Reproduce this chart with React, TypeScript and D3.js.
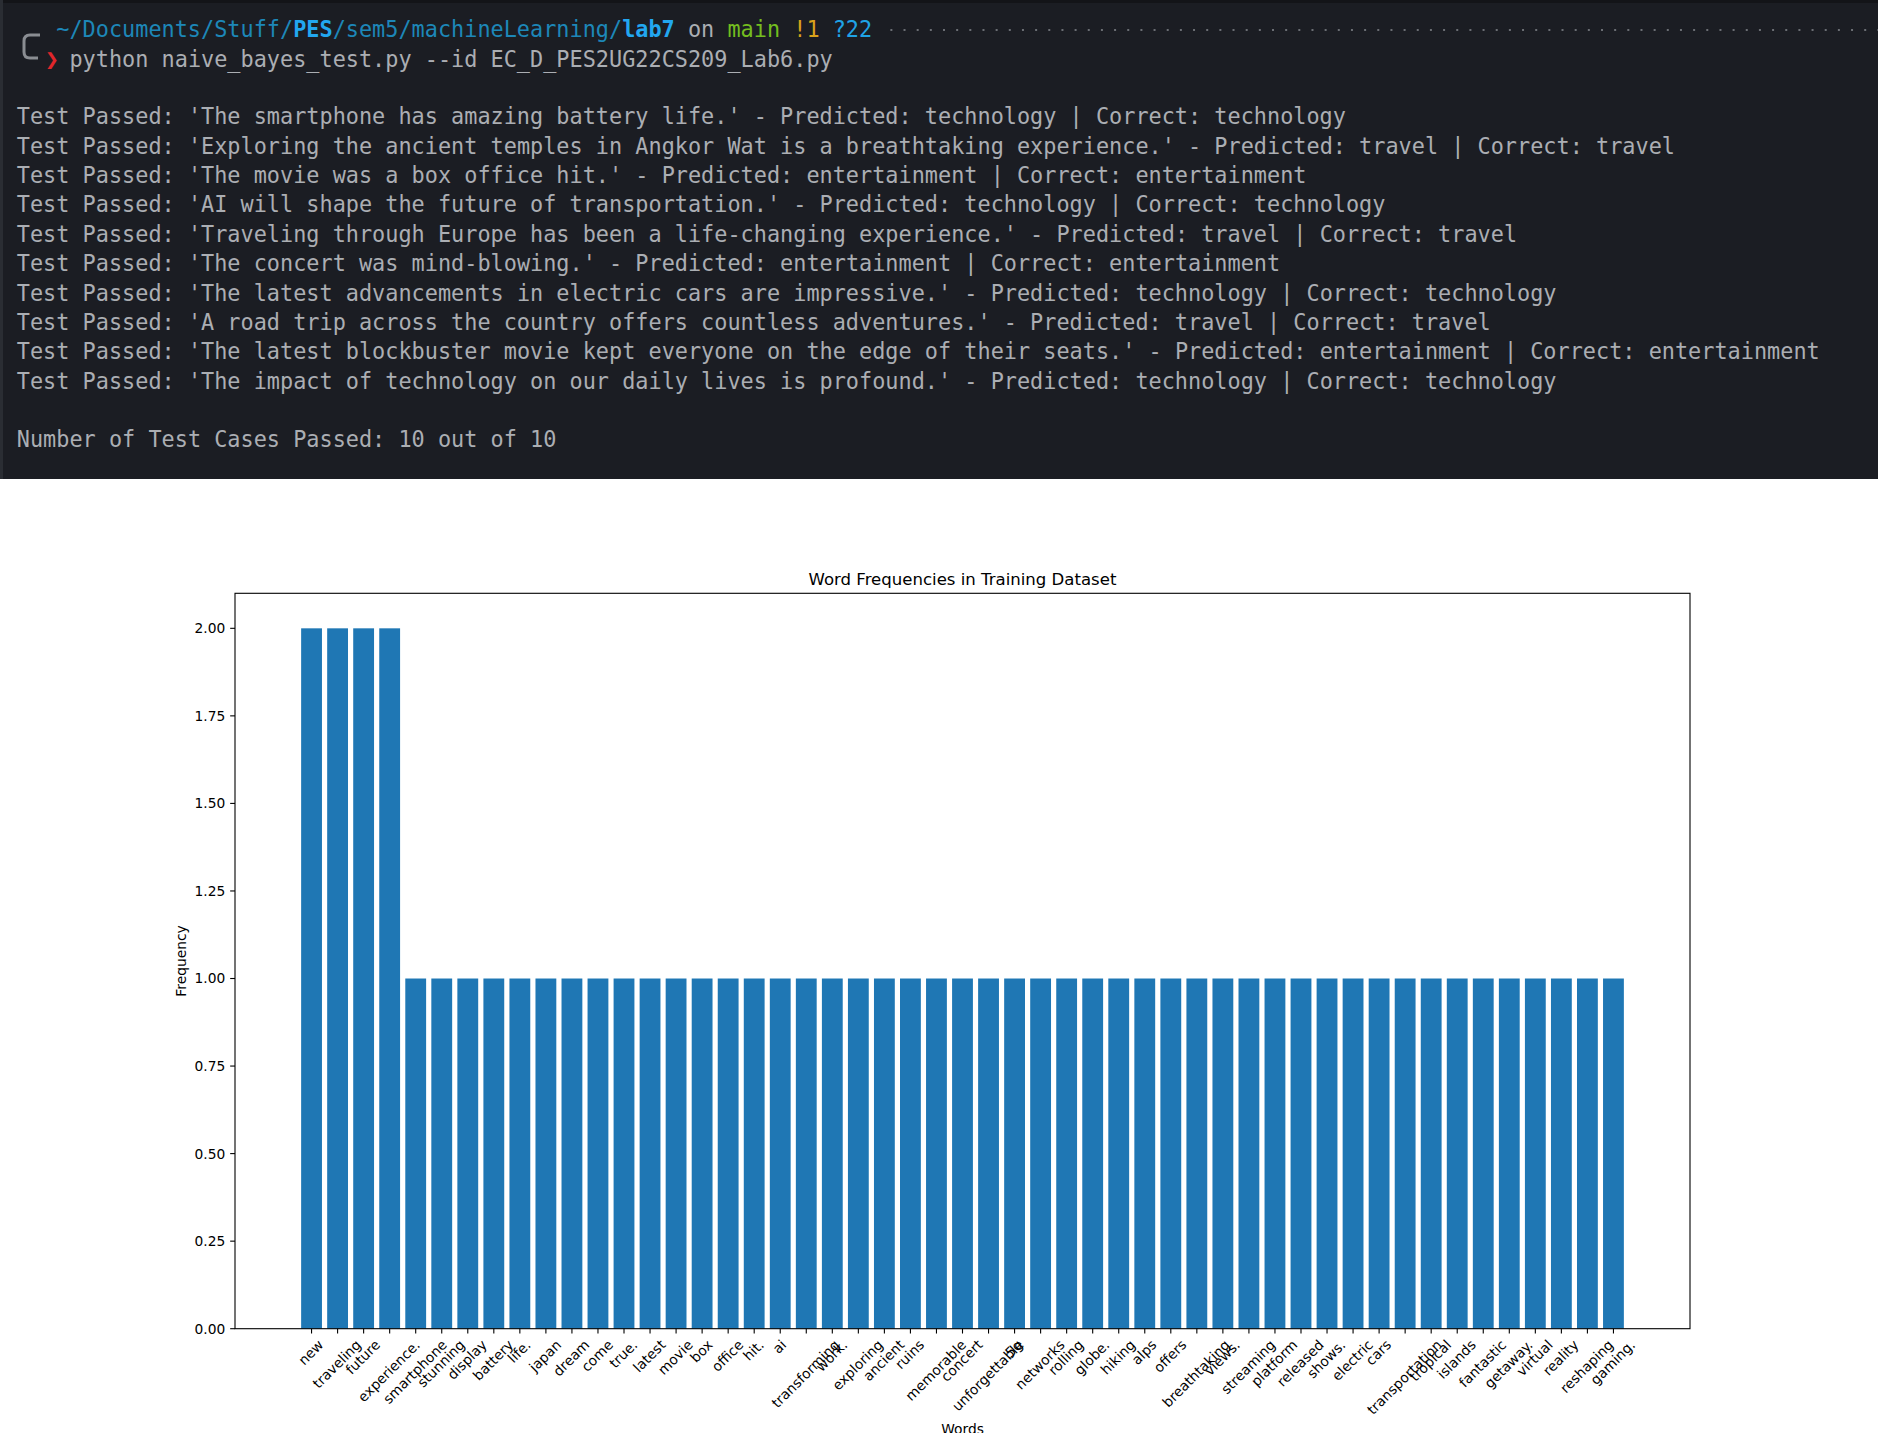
import * as d3 from "d3";

// terminal output shown above the chart
const promptParts = [
  { text: "~/Documents/Stuff/", color: "#1d87b8", bold: false },
  { text: "PES", color: "#22a7f0", bold: true },
  { text: "/sem5/machineLearning/", color: "#1d87b8", bold: false },
  { text: "lab7", color: "#22a7f0", bold: true },
  { text: " on ", color: "#abaeb3", bold: false },
  { text: "main", color: "#74bd1f", bold: false },
  { text: " ", color: "#abaeb3", bold: false },
  { text: "!1", color: "#d9a21b", bold: false },
  { text: " ", color: "#abaeb3", bold: false },
  { text: "?22", color: "#1fa3e6", bold: false },
];
const command = "python naive_bayes_test.py --id EC_D_PES2UG22CS209_Lab6.py";
const testLines = [
  "Test Passed: 'The smartphone has amazing battery life.' - Predicted: technology | Correct: technology",
  "Test Passed: 'Exploring the ancient temples in Angkor Wat is a breathtaking experience.' - Predicted: travel | Correct: travel",
  "Test Passed: 'The movie was a box office hit.' - Predicted: entertainment | Correct: entertainment",
  "Test Passed: 'AI will shape the future of transportation.' - Predicted: technology | Correct: technology",
  "Test Passed: 'Traveling through Europe has been a life-changing experience.' - Predicted: travel | Correct: travel",
  "Test Passed: 'The concert was mind-blowing.' - Predicted: entertainment | Correct: entertainment",
  "Test Passed: 'The latest advancements in electric cars are impressive.' - Predicted: technology | Correct: technology",
  "Test Passed: 'A road trip across the country offers countless adventures.' - Predicted: travel | Correct: travel",
  "Test Passed: 'The latest blockbuster movie kept everyone on the edge of their seats.' - Predicted: entertainment | Correct: entertainment",
  "Test Passed: 'The impact of technology on our daily lives is profound.' - Predicted: technology | Correct: technology",
];
const summaryLine = "Number of Test Cases Passed: 10 out of 10";

// chart data
const words = [
  "new", "traveling", "future", "experience.", "smartphone", "stunning", "display",
  "battery", "life.", "japan", "dream", "come", "true.", "latest", "movie", "box",
  "office", "hit.", "ai", "transforming", "work.", "exploring", "ancient", "ruins",
  "memorable", "concert", "unforgettable", "5g", "networks", "rolling", "globe.",
  "hiking", "alps", "offers", "breathtaking", "views.", "streaming", "platform",
  "released", "shows.", "electric", "cars", "transportation", "tropical", "islands",
  "fantastic", "getaway.", "virtual", "reality", "reshaping", "gaming.",
];
const frequencies = [
  2, 2, 2, 2, 1, 1, 1, 1, 1, 1, 1, 1, 1, 1, 1, 1, 1, 1, 1, 1, 1, 1, 1, 1, 1, 1,
  1, 1, 1, 1, 1, 1, 1, 1, 1, 1, 1, 1, 1, 1, 1, 1, 1, 1, 1, 1, 1, 1, 1, 1, 1,
];
const yTicks = [0, 0.25, 0.5, 0.75, 1.0, 1.25, 1.5, 1.75, 2.0];

const W = 1878;
const H = 1433;
const termH = 479;
const mono = '"DejaVu Sans Mono", monospace';
const sans = '"DejaVu Sans", sans-serif';
const cw = 13.16; // terminal character advance
const col0 = 16.8;
const lineStep = 29.35;
const termSize = 23;
const termGray = "#abaeb3";

const pt = 1.38; // px per point of the saved figure
const fs = 10 * pt; // tick label size
const left = 235, right = 1690, top = 593.3, bottom = 1328.7;
const tickLen = 3.5 * pt, tickPad = 3.5 * pt;

let ctx: CanvasRenderingContext2D | null = null;
function textWidth(s: string, font: string) {
  if (!ctx) ctx = document.createElement("canvas").getContext("2d");
  ctx!.font = font;
  return ctx!.measureText(s).width;
}

export default function App() {
  const n = words.length;
  const lo = -0.4, hi = n - 1 + 0.4;
  const m = (hi - lo) * 0.05;
  const x = d3.scaleLinear().domain([lo - m, hi + m]).range([left, right]);
  const y = d3.scaleLinear().domain([0, d3.max(frequencies)! * 1.05]).range([bottom, top]);
  const fmt = d3.format(".2f");

  const lh = 0.968 * fs;
  const labTop = bottom + tickLen + tickPad;
  const labels = words.map((w, i) => {
    const tw = textWidth(w, `${fs}px "DejaVu Sans"`);
    const ext = (tw + lh) / Math.SQRT2;
    return { w, cx: x(i), cy: labTop + ext / 2, bottom: labTop + ext };
  });
  const xlabTop = d3.max(labels, (d) => d.bottom)! + 4 * pt;

  const colX = (c: number) => col0 + c * cw;
  const lineY = (k: number) => 116.2 + k * lineStep + 8.2;
  const promptLen = d3.sum(promptParts, (p) => p.text.length);

  return (
    <svg width={W} height={H} style={{ position: "absolute", left: 0, top: 0 }}>
      <rect x={0} y={0} width={W} height={H} fill="#ffffff" />
      {/* terminal */}
      <rect x={0} y={0} width={W} height={termH} fill="#1b1d23" />
      <rect x={0} y={0} width={W} height={3} fill="#131418" />
      <rect x={0} y={0} width={3} height={termH} fill="#2a2d33" />
      <path d="M40,35 H30 Q24,35 24,41 V52 Q24,58 30,58 H38" fill="none" stroke="#8a8d92" strokeWidth={3} />
      <text x={colX(2) + 2} y={58.7 + 8.2} fontFamily={mono} fontSize={termSize} fill="#e0262b" fontWeight="bold">❯</text>
      <text x={colX(3)} y={28.7 + 8.2} fontFamily={mono} fontSize={termSize} xmlSpace="preserve"
        textLength={promptLen * cw} lengthAdjust="spacingAndGlyphs">
        {promptParts.map((p, i) => (
          <tspan key={i} fill={p.color} fontWeight={p.bold ? "bold" : "normal"}>{p.text}</tspan>
        ))}
      </text>
      <line x1={colX(3 + promptLen + 1) + 5} x2={W} y1={30} y2={30} stroke="#6b6e74" strokeWidth={2} strokeDasharray={`2 ${cw - 2}`} />
      <text x={colX(4)} y={58.7 + 8.2} fontFamily={mono} fontSize={termSize} fill={termGray}
        textLength={command.length * cw} lengthAdjust="spacingAndGlyphs">{command}</text>
      {testLines.map((t, k) => (
        <text key={k} x={col0} y={lineY(k)} fontFamily={mono} fontSize={termSize} fill={termGray}
          xmlSpace="preserve" textLength={t.length * cw} lengthAdjust="spacingAndGlyphs">{t}</text>
      ))}
      <text x={col0} y={lineY(11)} fontFamily={mono} fontSize={termSize} fill={termGray}
        xmlSpace="preserve" textLength={summaryLine.length * cw} lengthAdjust="spacingAndGlyphs">{summaryLine}</text>

      {/* chart */}
      <text x={(left + right) / 2} y={top - 6 * pt} textAnchor="middle" fontFamily={sans} fontSize={12 * pt} fill="#000">
        Word Frequencies in Training Dataset
      </text>
      {frequencies.map((v, i) => (
        <rect key={i} x={x(i - 0.4)} y={y(v)} width={x(i + 0.4) - x(i - 0.4)} height={y(0) - y(v)} fill="#1f77b4" />
      ))}
      <rect x={left} y={top} width={right - left} height={bottom - top} fill="none" stroke="#000" strokeWidth={1.1} />
      {yTicks.map((t) => (
        <g key={t}>
          <line x1={left - tickLen} x2={left} y1={y(t)} y2={y(t)} stroke="#000" strokeWidth={1.1} />
          <text x={left - tickLen - tickPad} y={y(t) + 0.36 * fs} textAnchor="end" fontFamily={sans} fontSize={fs} fill="#000">
            {fmt(t)}
          </text>
        </g>
      ))}
      {labels.map((d, i) => (
        <g key={i}>
          <line x1={d.cx} x2={d.cx} y1={bottom} y2={bottom + tickLen} stroke="#000" strokeWidth={1.1} />
          <g transform={`translate(${d.cx},${d.cy}) rotate(-45)`}>
            <text x={0} y={0.276 * fs} textAnchor="middle" fontFamily={sans} fontSize={fs} fill="#000">{d.w}</text>
          </g>
        </g>
      ))}
      <g transform={`translate(181,${(top + bottom) / 2}) rotate(-90)`}>
        <text x={0} y={0.36 * fs} textAnchor="middle" fontFamily={sans} fontSize={fs} fill="#000">Frequency</text>
      </g>
      <text x={(left + right) / 2} y={xlabTop + 0.76 * fs} textAnchor="middle" fontFamily={sans} fontSize={fs} fill="#000">
        Words
      </text>
    </svg>
  );
}
